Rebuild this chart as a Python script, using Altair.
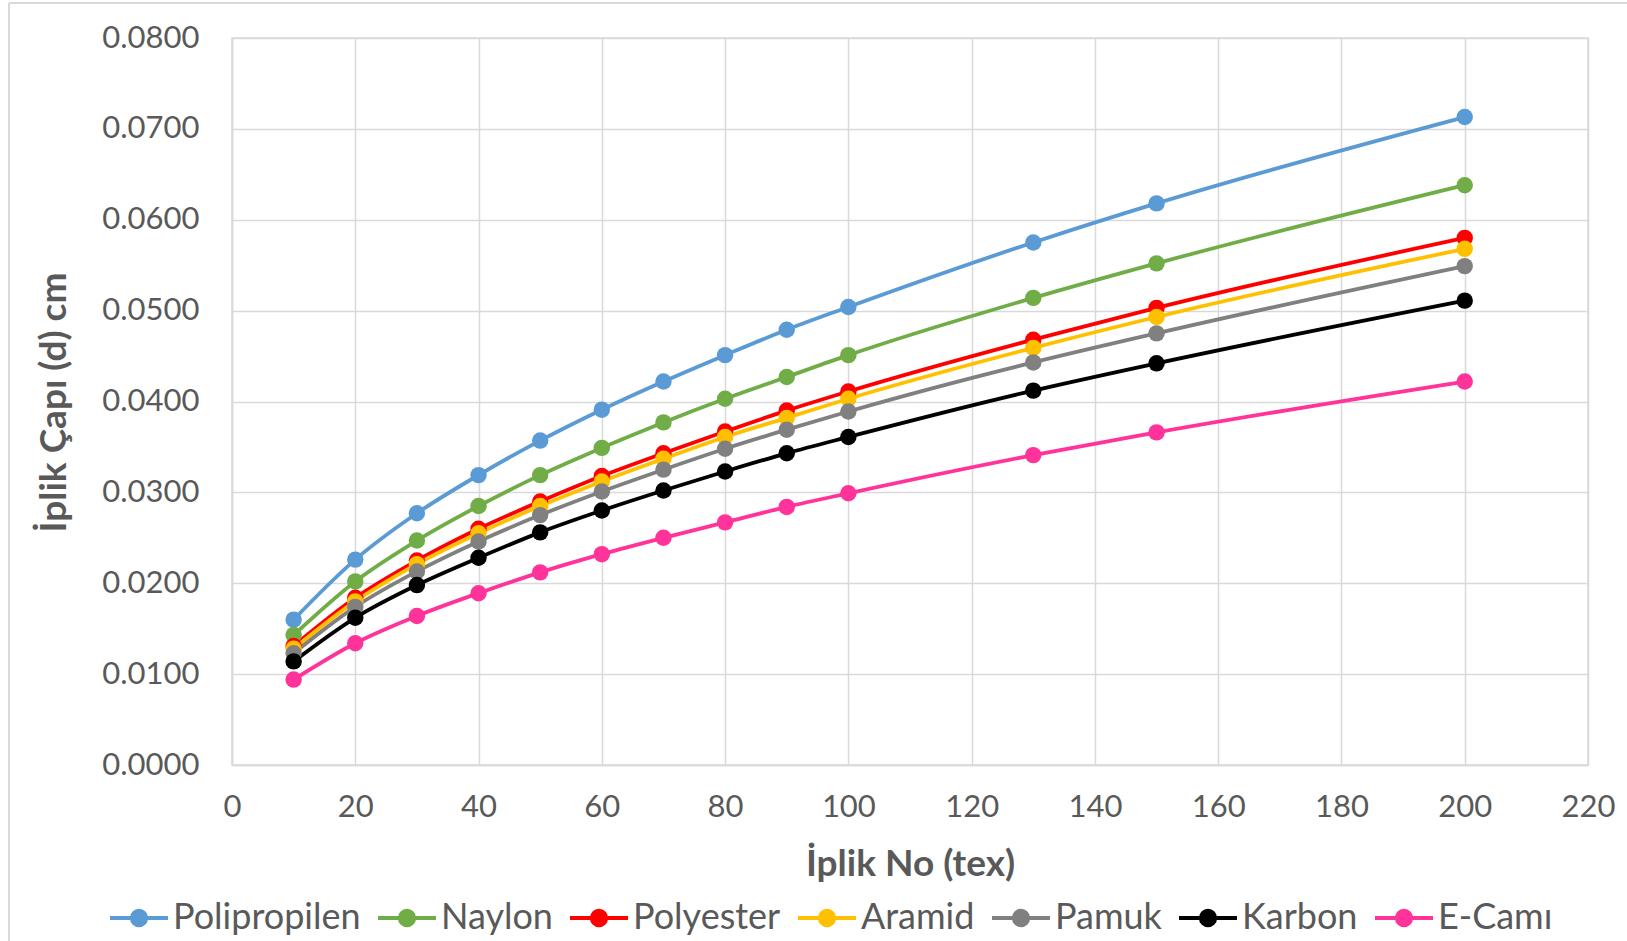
import altair as alt
import pandas as pd

tex = [10, 20, 30, 40, 50, 60, 70, 80, 90, 100, 130, 150, 200]
series_names = ["Polipropilen", "Naylon", "Polyester", "Aramid", "Pamuk", "Karbon", "E-Camı"]
colors = ["#5B9BD5", "#70AD47", "#FF0000", "#FFC000", "#808080", "#000000", "#FF3399"]

polipropilen = [0.0160, 0.0226, 0.0277, 0.0319, 0.0357, 0.0391, 0.0422, 0.0451, 0.0479, 0.0504, 0.0575, 0.0618, 0.0713]
naylon = [0.0143, 0.0202, 0.0247, 0.0285, 0.0319, 0.0349, 0.0377, 0.0403, 0.0427, 0.0451, 0.0514, 0.0552, 0.0638]
polyester = [0.0131, 0.0184, 0.0225, 0.0260, 0.0290, 0.0318, 0.0343, 0.0367, 0.0390, 0.0411, 0.0468, 0.0503, 0.0580]
aramid = [0.0128, 0.0180, 0.0221, 0.0255, 0.0285, 0.0312, 0.0337, 0.0361, 0.0382, 0.0403, 0.0459, 0.0493, 0.0568]
pamuk = [0.0123, 0.0174, 0.0213, 0.0246, 0.0275, 0.0301, 0.0325, 0.0348, 0.0369, 0.0389, 0.0443, 0.0475, 0.0549]
karbon = [0.0114, 0.0162, 0.0198, 0.0228, 0.0256, 0.0280, 0.0302, 0.0323, 0.0343, 0.0361, 0.0412, 0.0442, 0.0511]
e_cami = [0.0094, 0.0134, 0.0164, 0.0189, 0.0212, 0.0232, 0.0250, 0.0267, 0.0284, 0.0299, 0.0341, 0.0366, 0.0422]

all_series = [polipropilen, naylon, polyester, aramid, pamuk, karbon, e_cami]

rows = []
for idx, (name, vals) in enumerate(zip(series_names, all_series)):
    for t, v in zip(tex, vals):
        rows.append({"tex": t, "d": v, "seri": name, "sira": idx})
df = pd.DataFrame(rows)

FONT = "Lato"
TXT = "#595959"
GRID = "#D9D9D9"

legend_symbol = "M-4,0 L4,0 M1,0 A1,1 0 1,1 -1,0 A1,1 0 1,1 1,0 Z"

lines = alt.Chart(df).mark_line(
    point=alt.OverlayMarkDef(filled=True, size=270, opacity=1),
    strokeWidth=3.8,
    interpolate="monotone",
).encode(
    x=alt.X("tex:Q",
            scale=alt.Scale(domain=[0, 220], nice=False),
            axis=alt.Axis(values=list(range(0, 221, 20)), title="İplik No (tex)",
                          titleY=99, titleBaseline="middle", labelFlush=False)),
    y=alt.Y("d:Q",
            scale=alt.Scale(domain=[0, 0.08], nice=False),
            axis=alt.Axis(values=[i / 100 for i in range(0, 9)], format=".4f",
                          title="İplik Çapı (d) cm", titleX=-178, titleY=364,
                          titleBaseline="middle", titleAngle=270, labelFlush=False)),
    color=alt.Color("seri:N",
                    scale=alt.Scale(domain=series_names, range=colors),
                    sort=series_names,
                    legend=alt.Legend(title=None, orient="none", direction="horizontal",
                                      legendX=-111, legendY=862, columns=7,
                                      symbolType=legend_symbol, symbolSize=210,
                                      symbolStrokeWidth=3.8, labelOffset=16,
                                      columnPadding=9, padding=0, labelLimit=400,
                                      labelFontSize=36, labelColor=TXT, labelFont=FONT)),
    order=alt.Order("sira:Q"),
)

border_left = alt.Chart(df).mark_rule(color=GRID, strokeWidth=2).encode(
    x=alt.value(-223), y=alt.value(-35), y2=alt.value(903))
border_top = alt.Chart(df).mark_rule(color=GRID, strokeWidth=2).encode(
    x=alt.value(-223), x2=alt.value(1395), y=alt.value(-35))

chart = alt.layer(border_left, border_top, lines).properties(
    width=1356,
    height=727,
    autosize=alt.AutoSizeParams(type="none"),
    padding={"left": 232, "top": 38, "right": 39, "bottom": 176},
).configure_view(
    stroke=GRID, strokeWidth=1.5
).configure_axis(
    grid=True, gridColor=GRID, gridWidth=1.5,
    domainColor=GRID, domainWidth=1.5,
    ticks=False,
    labelFont=FONT, labelFontSize=31, labelColor=TXT,
    titleFont=FONT, titleFontSize=37, titleColor=TXT, titleFontWeight="bold",
).configure_axisY(
    labelPadding=33,
).configure_axisX(
    labelPadding=27,
)

chart.save("out.html", embed_options={"renderer": "svg", "actions": False})
